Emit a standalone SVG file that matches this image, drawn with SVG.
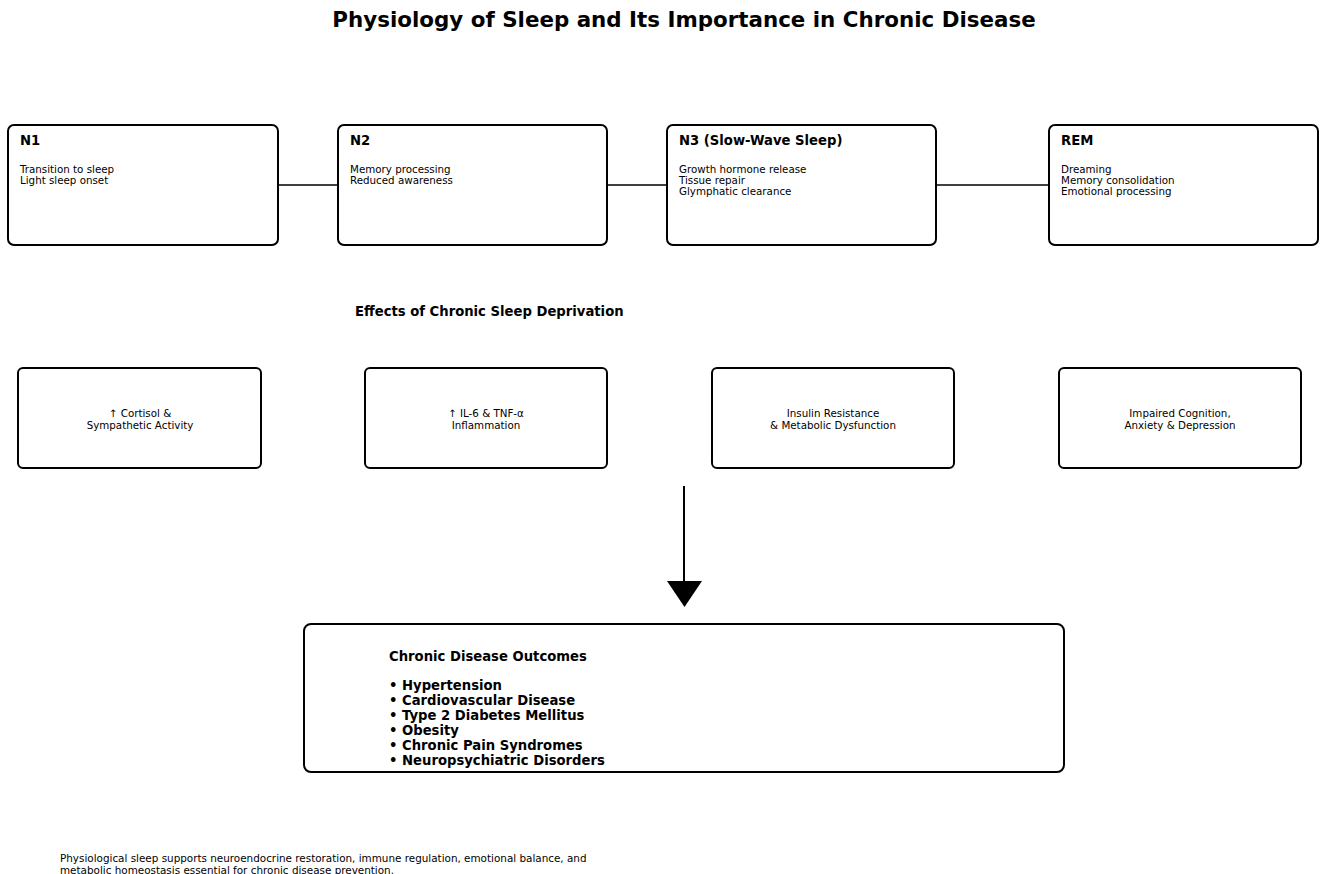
<svg xmlns="http://www.w3.org/2000/svg" width="1320" height="874" viewBox="0 0 1320 874">
<style>
.box{fill:#fff;stroke:#000;stroke-width:2}
.t{font-family:"DejaVu Sans",sans-serif;fill:#000}
.title{font-size:21.4px;font-weight:bold}
.h{font-size:13.2px;font-weight:bold}
.b{font-size:10.3px}
.c{font-size:10.3px;text-anchor:middle}
.o{font-size:13.2px;font-weight:bold}
.f{font-size:10.4px}
.ln{stroke:#000;stroke-width:1.5;fill:none}
</style>
<rect width="1320" height="874" fill="#fff"/>
<text class="t title" x="684" y="27" text-anchor="middle">Physiology of Sleep and Its Importance in Chronic Disease</text>
<g id="connectors">
<line class="ln" x1="278" y1="185" x2="338" y2="185"/>
<line class="ln" x1="607" y1="185" x2="667" y2="185"/>
<line class="ln" x1="936" y1="185" x2="1049" y2="185"/>
<line x1="684" y1="486" x2="684" y2="584" stroke="#000" stroke-width="2"/>
<polygon points="667,581 702,581 684.5,607" fill="#000"/>
</g>
<g id="n1">
<rect class="box" x="8" y="125" width="270" height="120" rx="6"/>
<text class="t h" x="20" y="145">N1</text>
<text class="t b" x="20" y="173">Transition to sleep</text>
<text class="t b" x="20" y="184">Light sleep onset</text>
</g>
<g id="n2">
<rect class="box" x="338" y="125" width="269" height="120" rx="6"/>
<text class="t h" x="350" y="145">N2</text>
<text class="t b" x="350" y="173">Memory processing</text>
<text class="t b" x="350" y="184">Reduced awareness</text>
</g>
<g id="n3">
<rect class="box" x="667" y="125" width="269" height="120" rx="6"/>
<text class="t h" x="679" y="145">N3 (Slow-Wave Sleep)</text>
<text class="t b" x="679" y="173">Growth hormone release</text>
<text class="t b" x="679" y="184">Tissue repair</text>
<text class="t b" x="679" y="195">Glymphatic clearance</text>
</g>
<g id="rem">
<rect class="box" x="1049" y="125" width="269" height="120" rx="6"/>
<text class="t h" x="1061" y="145">REM</text>
<text class="t b" x="1061" y="173">Dreaming</text>
<text class="t b" x="1061" y="184">Memory consolidation</text>
<text class="t b" x="1061" y="195">Emotional processing</text>
</g>
<text class="t h" x="355" y="316">Effects of Chronic Sleep Deprivation</text>
<g id="e1">
<rect class="box" x="18" y="368" width="243" height="100" rx="5"/>
<text class="t c" x="140" y="417">↑ Cortisol &amp;</text>
<text class="t c" x="140" y="429">Sympathetic Activity</text>
</g>
<g id="e2">
<rect class="box" x="365" y="368" width="242" height="100" rx="5"/>
<text class="t c" x="486" y="417">↑ IL-6 &amp; TNF-α</text>
<text class="t c" x="486" y="429">Inflammation</text>
</g>
<g id="e3">
<rect class="box" x="712" y="368" width="242" height="100" rx="5"/>
<text class="t c" x="833" y="417">Insulin Resistance</text>
<text class="t c" x="833" y="429">&amp; Metabolic Dysfunction</text>
</g>
<g id="e4">
<rect class="box" x="1059" y="368" width="242" height="100" rx="5"/>
<text class="t c" x="1180" y="417">Impaired Cognition,</text>
<text class="t c" x="1180" y="429">Anxiety &amp; Depression</text>
</g>
<g id="outcomes">
<rect class="box" x="304" y="624" width="760" height="148" rx="7"/>
<text class="t h" x="389" y="661">Chronic Disease Outcomes</text>
<text class="t o" x="389" y="690">• Hypertension</text>
<text class="t o" x="389" y="705">• Cardiovascular Disease</text>
<text class="t o" x="389" y="720">• Type 2 Diabetes Mellitus</text>
<text class="t o" x="389" y="735">• Obesity</text>
<text class="t o" x="389" y="750">• Chronic Pain Syndromes</text>
<text class="t o" x="389" y="765">• Neuropsychiatric Disorders</text>
</g>
<text class="t f" x="60" y="862">Physiological sleep supports neuroendocrine restoration, immune regulation, emotional balance, and</text>
<text class="t f" x="60" y="874">metabolic homeostasis essential for chronic disease prevention.</text>
</svg>
